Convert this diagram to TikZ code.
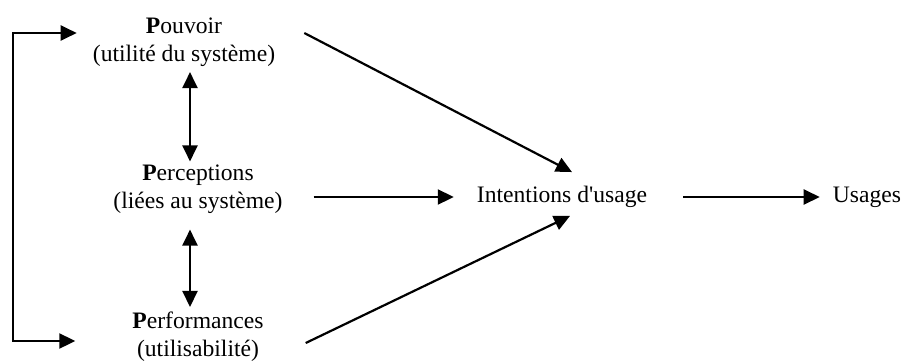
\documentclass[tikz,border=0pt]{standalone}
\usepackage{fontspec}
\setmainfont{Liberation Serif}[Ligatures=TeXOff]
\usetikzlibrary{arrows.meta, positioning, calc}

\begin{document}
\begin{tikzpicture}[
  x=1pt, y=-1pt,
  every node/.style={font=\fontsize{23.6}{28}\selectfont},
  concept/.style={align=center, inner sep=0pt},
  arrow/.style={-{Triangle[length=16pt, width=15pt]}, line width=2.2pt, draw=black},
  biarrow/.style={{Triangle[length=16pt, width=15pt]}-{Triangle[length=16pt, width=15pt]}, line width=2.2pt, draw=black}
]
\useasboundingbox (0,0) rectangle (904,362);

\node[concept] (pouvoir) at (184,42.5) {\textbf{P}ouvoir\\(utilité du système)};
\node[concept] (perceptions) at (198,189) {\textbf{P}erceptions\\(liées au système)};
\node[concept] (performances) at (198,337) {\textbf{P}erformances\\(utilisabilité)};
\node[concept] (intentions) at (562,197) {Intentions d'usage};
\node[concept] (usages) at (867,197) {Usages};

% main flow
\draw[arrow] ([xshift=29pt, yshift=9.5pt]pouvoir.east) -- ([xshift=10pt, yshift=14pt]intentions.north);
\draw[arrow, shorten <=31pt, shorten >=23pt] (perceptions.east |- intentions.west) -- (intentions.west);
\draw[arrow] ([xshift=42pt, yshift=-6pt]performances.east) -- ([xshift=8pt, yshift=-8pt]intentions.south);
\draw[arrow, shorten <=36pt, shorten >=13pt] (intentions.east) -- (usages.west);

% links between the three P
\draw[biarrow] ([xshift=6pt, yshift=-5pt]pouvoir.south) -- ([xshift=-8pt, yshift=3pt]perceptions.north);
\draw[biarrow] ([xshift=-8pt, yshift=-16pt]perceptions.south) -- ([xshift=-8pt, yshift=5pt]performances.north);

% feedback bracket
\draw[biarrow] ([xshift=-16pt, yshift=9.5pt]pouvoir.west) -- ++(-64,0) |- ([xshift=-57pt, yshift=-4pt]performances.west);

\end{tikzpicture}
\end{document}
